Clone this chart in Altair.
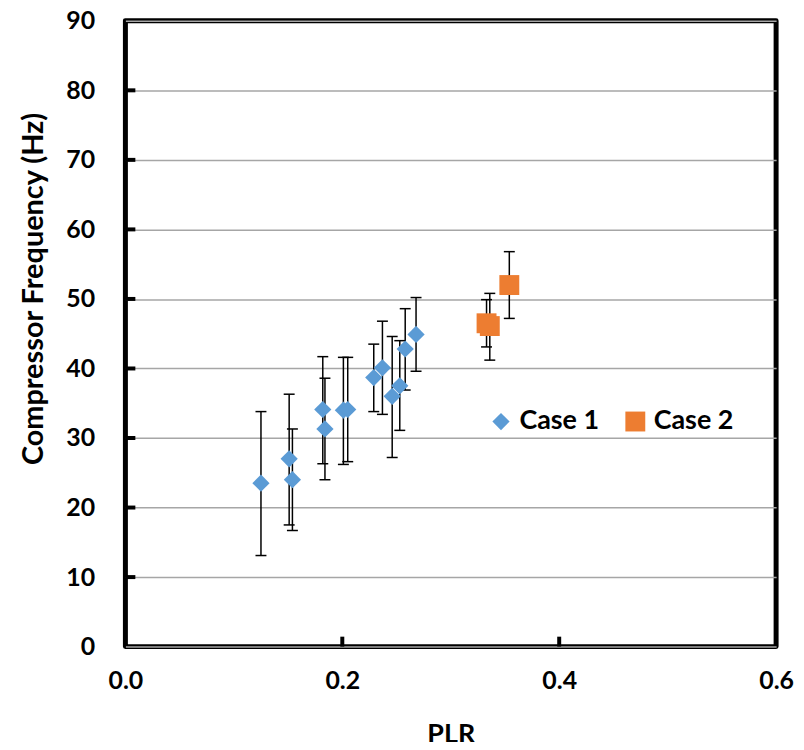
import altair as alt
import pandas as pd

# ---- data ----
case1_plr  = [0.125, 0.151, 0.154, 0.182, 0.184, 0.201, 0.205, 0.229, 0.237, 0.246, 0.253, 0.258, 0.268]
case1_freq = [23.5, 27.0, 24.0, 34.1, 31.3, 34.0, 34.1, 38.7, 40.1, 36.0, 37.5, 42.8, 44.9]
case1_low  = [13.1, 17.5, 16.7, 26.3, 24.0, 26.2, 26.6, 33.8, 33.4, 27.2, 31.1, 36.9, 39.6]
case1_high = [33.8, 36.3, 31.3, 41.7, 38.6, 41.6, 41.6, 43.5, 46.8, 44.6, 44.0, 48.6, 50.2]

case2_plr  = [0.333, 0.336, 0.354]
case2_freq = [46.5, 46.1, 52.0]
case2_low  = [43.1, 41.2, 47.2]
case2_high = [49.9, 50.8, 56.8]

series_names  = ["Case 1", "Case 2"]
series_colors = ["#5B9BD5", "#ED7D31"]
series_shapes = ["diamond", "square"]
series_sizes  = [300, 400]

x_tick_labels = [0.0, 0.2, 0.4, 0.6]
y_tick_labels = [0, 10, 20, 30, 40, 50, 60, 70, 80, 90]
inner_x_ticks = [0.2, 0.4]
inner_y_ticks = [10, 20, 30, 40, 50, 60, 70, 80]

df = pd.DataFrame({
    "plr": case1_plr + case2_plr,
    "freq": case1_freq + case2_freq,
    "low": case1_low + case2_low,
    "high": case1_high + case2_high,
    "series": ["Case 1"] * len(case1_plr) + ["Case 2"] * len(case2_plr),
})
xt_df = pd.DataFrame({"v": inner_x_ticks})
yt_df = pd.DataFrame({"v": inner_y_ticks})

FONT = "Lato"
W, H = 654, 629

x_scale = alt.Scale(domain=[0, 0.6], nice=False, zero=False)
y_scale = alt.Scale(domain=[0, 90], nice=False)

x_axis = alt.Axis(
    title="PLR", values=x_tick_labels, format=".1f", grid=False, ticks=False,
    domain=False, labelPadding=22, labelFontSize=25, labelFontWeight="bold",
    labelColor="black", titleFontSize=27, titleFontWeight="bold", titleColor="black",
    titleBaseline="middle", titleY=88, labelFlush=False,
)
y_axis = alt.Axis(
    title="Compressor Frequency (Hz)", values=y_tick_labels, grid=True,
    gridColor="#A6A6A6", gridWidth=1.5, ticks=False, domain=False,
    labelPadding=31, labelFontSize=25, labelFontWeight="bold", labelColor="black",
    titleFontSize=29, titleFontWeight="bold", titleColor="black",
    titleBaseline="middle", titleAlign="center", titleAngle=270,
    titleX=-92, titleY=269, labelFlush=False,
)

x_enc = alt.X("plr:Q", scale=x_scale, axis=x_axis)

base = alt.Chart(df)

err = base.mark_rule(color="black", strokeWidth=1.5).encode(
    x=x_enc,
    y=alt.Y("low:Q", scale=y_scale, axis=y_axis),
    y2="high:Q",
)

caps = base.transform_fold(["low", "high"], as_=["end", "val"]).mark_rule(
    color="black", strokeWidth=1.5, xOffset=-5.5, x2Offset=5.5
).encode(
    x=x_enc,
    x2="plr:Q",
    y=alt.Y("val:Q", scale=y_scale, axis=y_axis),
)

legend = alt.Legend(
    title=None, orient="none", legendX=364, legendY=389, direction="horizontal",
    labelFontSize=27, labelFont=FONT, labelFontWeight="bold", labelColor="black",
    symbolSize=250, symbolStrokeWidth=0, columnPadding=22, labelOffset=5,
    symbolOpacity=1,
)

points = base.mark_point(filled=True, opacity=1).encode(
    x=x_enc,
    y=alt.Y("freq:Q", scale=y_scale, axis=y_axis),
    color=alt.Color("series:N", scale=alt.Scale(domain=series_names, range=series_colors), legend=legend),
    shape=alt.Shape("series:N", scale=alt.Scale(domain=series_names, range=series_shapes), legend=legend),
    size=alt.Size("series:N", scale=alt.Scale(domain=series_names, range=series_sizes), legend=None),
)

ytick_marks = alt.Chart(yt_df).mark_rule(color="black", strokeWidth=4).encode(
    y=alt.Y("v:Q", scale=y_scale, axis=y_axis),
    x=alt.value(0),
    x2=alt.value(10),
)
xtick_marks = alt.Chart(xt_df).mark_rule(color="black", strokeWidth=4).encode(
    x=alt.X("v:Q", scale=x_scale, axis=x_axis),
    y=alt.value(H),
    y2=alt.value(H - 10),
)

chart = alt.layer(err, caps, points, ytick_marks, xtick_marks).properties(
    width=W, height=H,
    autosize=alt.AutoSizeParams(type="none"),
    padding={"left": 118, "top": 11, "right": 20, "bottom": 94},
    background="white",
).configure(font=FONT).configure_view(
    stroke="black", strokeWidth=5, strokeJoin="round"
)

chart.save("out.html", embed_options={"renderer": "svg", "actions": False})
